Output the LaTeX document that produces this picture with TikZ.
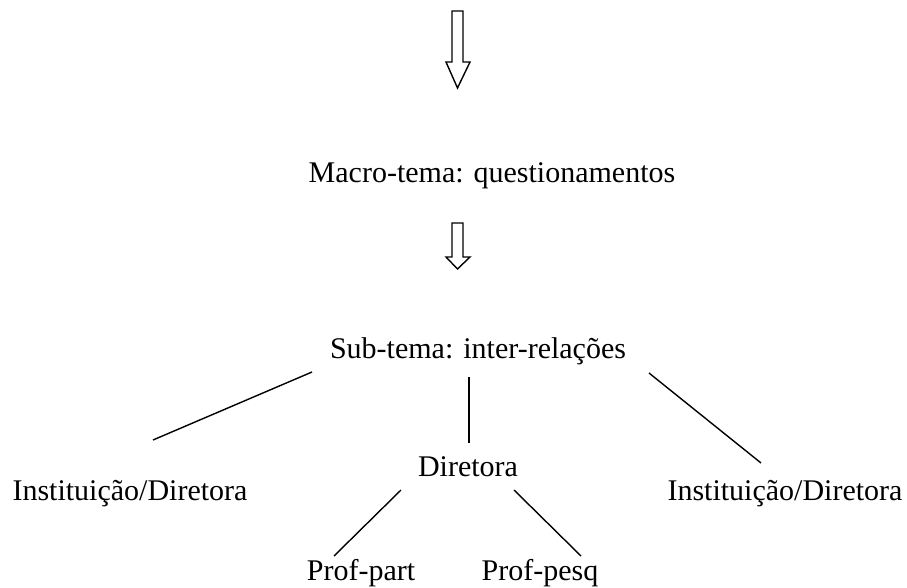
\documentclass[tikz,border=0pt]{standalone}
\usepackage{fontspec}
\setmainfont{Liberation Serif}
\begin{document}
\begin{tikzpicture}[x=1pt,y=-1pt,
  lbl/.style={anchor=base,inner sep=0pt,font=\fontsize{30}{36}\selectfont},
  conn/.style={line width=1.4pt},
  bigarrow/.style={line width=1.4pt,line join=miter,fill=white}]
\useasboundingbox (0,0) rectangle (907,588);
% hollow arrows
\draw[bigarrow] (452,11) -- (463,11) -- (463,62) -- (470,62) -- (457.5,88) -- (446,62) -- (452,62) -- cycle;
\draw[bigarrow] (452,223) -- (463,223) -- (463,257) -- (470,257) -- (457.5,269) -- (446,257) -- (452,257) -- cycle;
% text nodes
\node[lbl] (macro) at (492,183) {Macro-tema: questionamentos};
\node[lbl] (sub) at (478,358) {Sub-tema: inter-relações};
\node[lbl] (instL) at (130,500) {Instituição/Diretora};
\node[lbl] (instR) at (785,500) {Instituição/Diretora};
\node[lbl] (dir) at (468,476) {Diretora};
\node[lbl] (part) at (361,580) {Prof-part};
\node[lbl] (pesq) at (540,580) {Prof-pesq};
% connector end points
\coordinate (s1) at (312,372);
\coordinate (l1) at (153,440);
\coordinate (s2) at (469,377);
\coordinate (d2) at (469,443);
\coordinate (s3) at (649,373);
\coordinate (r3) at (761,463);
\coordinate (d4) at (401,490);
\coordinate (p4) at (334,556);
\coordinate (d5) at (514,490);
\coordinate (p5) at (581,556);
\draw[conn] (s1) -- (l1);
\draw[conn] (s2) -- (d2);
\draw[conn] (s3) -- (r3);
\draw[conn] (d4) -- (p4);
\draw[conn] (d5) -- (p5);
\end{tikzpicture}
\end{document}
